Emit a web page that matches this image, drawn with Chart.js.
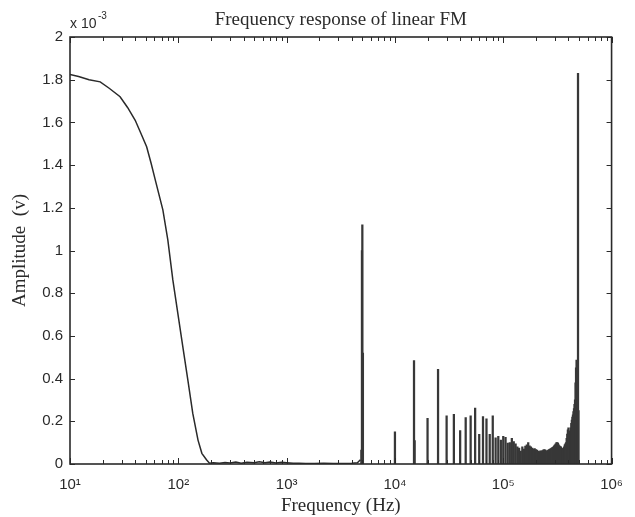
<!DOCTYPE html>
<html>
<head>
<meta charset="utf-8">
<script src="https://cdn.jsdelivr.net/npm/chart.js@4/dist/chart.umd.min.js"></script>
<style>
  html, body { margin: 0; padding: 0; background: #fff; }
  canvas { display: block; }
</style>
</head>
<body>
<canvas id="fmChart" width="635" height="517"></canvas>
<script>
// amplitudes are in units of 1e-3 V (axis shows "x 10^-3")

// baseband part of the spectrum, continuous curve (Hz)
const lowFreq = [
  10, 12, 15, 19, 23, 29, 34, 40, 45, 51,
  56, 62, 72, 80, 89, 100, 110, 123, 136, 152,
  165, 182, 194, 210, 240, 270, 300, 340, 380, 430,
  500, 560, 630, 700, 800, 900, 1000, 1150, 1300, 1500,
  1800, 2200, 2700, 3300, 4000, 4500, 4800
];
const lowAmp = [
  1.825, 1.815, 1.800, 1.790, 1.760, 1.720, 1.670, 1.610, 1.550, 1.486,
  1.410, 1.320, 1.190, 1.050, 0.862, 0.690, 0.550, 0.387, 0.237, 0.112,
  0.050, 0.020, 0.004, 0.006, 0.004, 0.007, 0.005, 0.009, 0.004, 0.008,
  0.006, 0.010, 0.006, 0.009, 0.005, 0.008, 0.006, 0.004, 0.003, 0.002,
  0.002, 0.003, 0.002, 0.002, 0.004, 0.006, 0.020
];

// FM spectral lines (Hz)
const lineFreq = [
  4900, 4960, 5000, 5060, 10000, 15000, 15200, 20000, 25000, 30000,
  35000, 40000, 45000, 50000, 55000, 60000, 65000, 70000, 75000, 80000,
  85000, 90000, 95000, 100000, 105000, 110000, 115000, 120000, 125000, 130000,
  135000, 140000, 145000, 150000, 155000, 160000, 165000, 170000, 175000, 180000,
  185000, 190000, 195000, 200000, 205000, 210000, 215000, 220000, 225000, 230000,
  235000, 240000, 245000, 250000, 255000, 260000, 265000, 270000, 275000, 280000,
  285000, 290000, 295000, 300000, 305000, 310000, 315000, 320000, 325000, 330000,
  335000, 340000, 345000, 350000, 355000, 360000, 365000, 370000, 375000, 380000,
  385000, 390000, 395000, 400000, 405000, 410000, 415000, 420000, 425000, 430000,
  435000, 440000, 445000, 450000, 455000, 460000, 465000, 470000, 475000, 480000,
  485000, 490000, 495000
];
const lineAmp = [
  0.065, 1.000, 1.120, 0.520, 0.151, 0.484, 0.110, 0.214, 0.443, 0.226,
  0.233, 0.156, 0.217, 0.226, 0.262, 0.139, 0.222, 0.211, 0.139, 0.226,
  0.122, 0.130, 0.112, 0.130, 0.125, 0.098, 0.100, 0.120, 0.105, 0.095,
  0.080, 0.075, 0.060, 0.080, 0.070, 0.084, 0.090, 0.100, 0.085, 0.080,
  0.075, 0.070, 0.072, 0.068, 0.065, 0.060, 0.058, 0.062, 0.060, 0.063,
  0.066, 0.068, 0.065, 0.060, 0.062, 0.065, 0.068, 0.070, 0.072, 0.075,
  0.078, 0.080, 0.085, 0.090, 0.095, 0.100, 0.100, 0.098, 0.090, 0.085,
  0.082, 0.080, 0.075, 0.070, 0.072, 0.075, 0.080, 0.090, 0.095, 0.100,
  0.120, 0.140, 0.160, 0.170, 0.155, 0.140, 0.150, 0.170, 0.190, 0.206,
  0.220, 0.230, 0.245, 0.260, 0.280, 0.300, 0.380, 0.450, 0.487, 0.420,
  0.350, 1.830, 0.250
];

const yTickValues = [0, 0.2, 0.4, 0.6, 0.8, 1, 1.2, 1.4, 1.6, 1.8, 2];
const yTickLabels = ['0', '0.2', '0.4', '0.6', '0.8', '1', '1.2', '1.4', '1.6', '1.8', '2'];
const xTickValues = [10, 100, 1000, 10000, 100000, 1000000];
const xTickLabels = ['10\u00b9', '10\u00b2', '10\u00b3', '10\u2074', '10\u2075', '10\u2076'];

// minor log ticks 2..9 in every decade
const xMinorTicks = [];
for (let d = 10; d < 1000000; d *= 10) {
  for (let k = 2; k <= 9; k++) xMinorTicks.push(k * d);
}

const ink = '#2a2a2a';
const serif = "'Liberation Serif', 'DejaVu Serif', serif";
const sans = "'Liberation Sans', Arial, sans-serif";

// MATLAB-like box, inward ticks, title and exponent note
const matlabAxes = {
  id: 'matlabAxes',
  afterDraw(chart) {
    const { ctx, chartArea: a, scales: { x, y } } = chart;
    ctx.save();
    ctx.strokeStyle = ink;
    ctx.lineWidth = 1;
    ctx.beginPath();
    yTickValues.forEach(v => {
      const py = Math.round(y.getPixelForValue(v)) + 0.5;
      ctx.moveTo(a.left, py); ctx.lineTo(a.left + 5, py);
      ctx.moveTo(a.right, py); ctx.lineTo(a.right - 5, py);
    });
    xTickValues.forEach(v => {
      const px = Math.round(x.getPixelForValue(v)) + 0.5;
      ctx.moveTo(px, a.bottom); ctx.lineTo(px, a.bottom - 6);
      ctx.moveTo(px, a.top); ctx.lineTo(px, a.top + 6);
    });
    xMinorTicks.forEach(v => {
      const px = Math.round(x.getPixelForValue(v)) + 0.5;
      ctx.moveTo(px, a.bottom); ctx.lineTo(px, a.bottom - 4);
      ctx.moveTo(px, a.top); ctx.lineTo(px, a.top + 4);
    });
    ctx.stroke();

    ctx.lineWidth = 1.6;
    ctx.strokeRect(a.left, a.top, a.right - a.left, a.bottom - a.top);

    ctx.fillStyle = ink;
    ctx.textAlign = 'center';
    ctx.textBaseline = 'alphabetic';
    ctx.font = '19px ' + serif;
    ctx.fillText('Frequency response of linear FM', (a.left + a.right) / 2, 25);

    ctx.textAlign = 'left';
    ctx.font = '14px ' + sans;
    ctx.fillText('x 10', a.left, 28);
    ctx.font = '10px ' + sans;
    ctx.fillText('-3', a.left + 28, 19);
    ctx.restore();
  }
};

new Chart(document.getElementById('fmChart'), {
  type: 'line',
  data: {
    datasets: [{
      type: 'line',
      data: lowFreq.map((f, i) => ({ x: f, y: lowAmp[i] })),
      borderColor: ink,
      borderWidth: 1.5,
      pointRadius: 0,
      tension: 0,
      fill: false
    }, {
      type: 'bar',
      data: lineFreq.map((f, i) => ({ x: f, y: lineAmp[i] })),
      backgroundColor: '#383838',
      borderWidth: 0,
      barThickness: 1.6,
      grouped: false
    }]
  },
  options: {
    responsive: false,
    animation: false,
    devicePixelRatio: 1,
    layout: { padding: { top: 37, right: 22, left: 0, bottom: 0 } },
    plugins: { legend: { display: false }, tooltip: { enabled: false } },
    scales: {
      x: {
        type: 'logarithmic',
        min: 10,
        max: 1000000,
        offset: false,
        grid: { display: false, drawTicks: false },
        border: { display: false },
        afterBuildTicks: s => { s.ticks = xTickValues.map(v => ({ value: v })); },
        afterFit: s => { s.height = 53; },
        ticks: {
          autoSkip: false,
          maxRotation: 0,
          padding: 12,
          color: ink,
          font: { family: sans, size: 15 },
          callback: (v, i) => xTickLabels[i]
        },
        title: {
          display: true,
          text: 'Frequency (Hz)',
          color: ink,
          font: { family: serif, size: 19 },
          padding: { top: 0, bottom: 0 }
        }
      },
      y: {
        min: 0,
        max: 2,
        grid: { display: false, drawTicks: false },
        border: { display: false },
        afterBuildTicks: s => { s.ticks = yTickValues.map(v => ({ value: v })); },
        afterFit: s => { s.width = 70; },
        ticks: {
          padding: 7,
          color: ink,
          font: { family: sans, size: 15 },
          callback: (v, i) => yTickLabels[i]
        },
        title: {
          display: true,
          text: 'Amplitude  (v)',
          color: ink,
          font: { family: serif, size: 19 },
          padding: { top: 9, bottom: 0 }
        }
      }
    }
  },
  plugins: [matlabAxes]
});
</script>
</body>
</html>
